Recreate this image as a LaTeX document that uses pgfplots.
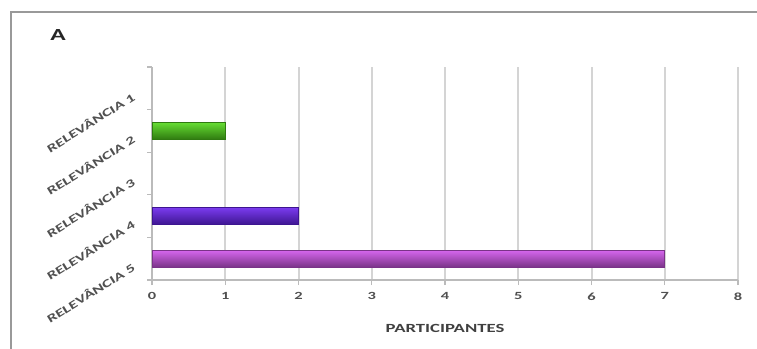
\documentclass[border=0pt]{standalone}
\usepackage{pgfplots}
\pgfplotsset{compat=1.18}
\usepackage{fontspec}
\newfontfamily\cb[FakeStretch=1.5]{Carlito Bold}
\definecolor{gridc}{HTML}{D4D4D4}
\definecolor{axc}{HTML}{BBBBBB}
\definecolor{labc}{HTML}{505050}
\definecolor{gmid}{HTML}{66DD33}
\definecolor{glight}{HTML}{A8FF80}
\definecolor{gdark}{HTML}{2F7A10}
\definecolor{pmid}{HTML}{7A3BEE}
\definecolor{plight}{HTML}{B088FF}
\definecolor{pdark}{HTML}{3D1590}
\definecolor{mmid}{HTML}{D666EE}
\definecolor{mlight}{HTML}{F5A0FF}
\definecolor{mdark}{HTML}{7A3388}
\begin{document}
\begin{tikzpicture}
\useasboundingbox (0,0) rectangle (757bp,349bp);
\draw[gray!80, line width=1.5bp] (11bp,0) -- (11bp,337bp) -- (757bp,337bp);
\node[font=\cb\fontsize{17}{18}\selectfont, text=black!85] at (58bp,314bp) {A};
\begin{axis}[
  at={(152bp,69bp)}, anchor=south west,
  scale only axis, width=586bp, height=213bp,
  xmin=0, xmax=8, ymin=0.5, ymax=5.5,
  xtick={0,...,8},
  ytick={0.5,1.5,...,5.5},
  y tick label as interval,
  yticklabels={RELEVÂNCIA 5,RELEVÂNCIA 4,RELEVÂNCIA 3,RELEVÂNCIA 2,RELEVÂNCIA 1},
  axis lines*=left,
  axis line style={axc, line width=1.2bp},
  tick align=outside, major tick length=5bp,
  tick style={axc, line width=1.2bp},
  xmajorgrids, major grid style={gridc, line width=2bp},
  /pgf/number format/assume math mode=true,
  ticklabel style={font=\cb\fontsize{11}{12}\selectfont, text=labc},
  yticklabel style={rotate=32, anchor=east, inner sep=1bp, xshift=-14bp, yshift=1bp, font=\cb\fontsize{11.5}{12}\selectfont},
  xticklabel style={yshift=-4bp},
  xlabel={PARTICIPANTES},
  xlabel style={font=\cb\fontsize{12.5}{13}\selectfont, text=black!75, at={(axis description cs:0.5,0)}, anchor=center, yshift=-48bp},
  clip=false,
]
\addplot[xbar, bar width=17bp, bar shift=0pt, draw=gdark, line width=0.6bp, top color=gmid, middle color=glight, bottom color=gdark] coordinates {(1,4)};
\addplot[xbar, bar width=17bp, bar shift=0pt, draw=pdark, line width=0.6bp, top color=pmid, middle color=plight, bottom color=pdark] coordinates {(2,2)};
\addplot[xbar, bar width=17bp, bar shift=0pt, draw=mdark, line width=0.6bp, top color=mmid, middle color=mlight, bottom color=mdark] coordinates {(7,1)};
\end{axis}
\end{tikzpicture}
\end{document}
